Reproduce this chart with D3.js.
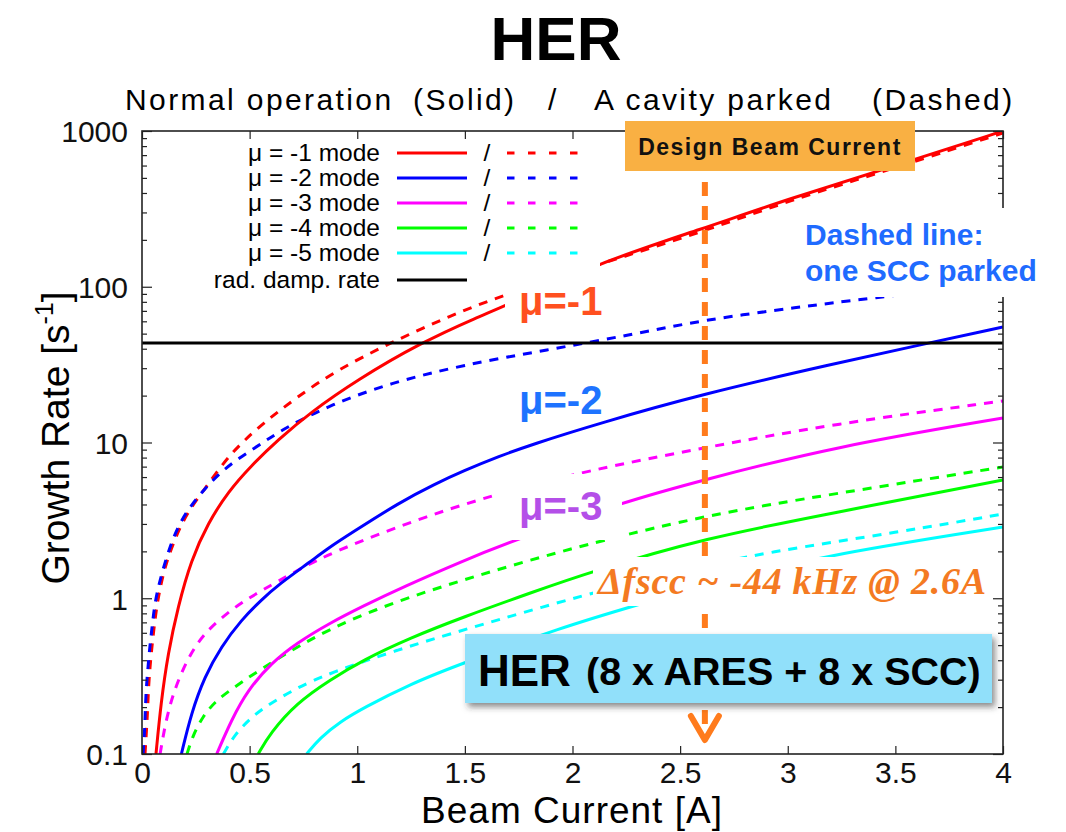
<!DOCTYPE html>
<html><head><meta charset="utf-8">
<script src="https://cdn.jsdelivr.net/npm/d3@7"></script>
<style>
body{margin:0;background:#fff}
svg{display:block}
</style>
</head><body>
<svg id="c" width="1066" height="832" font-family="'Liberation Sans',Arial,Helvetica,sans-serif"></svg>
<script>
// ---------- data ----------
const xTicks = [0, 0.5, 1, 1.5, 2, 2.5, 3, 3.5, 4];
const xTickLabels = ["0", "0.5", "1", "1.5", "2", "2.5", "3", "3.5", "4"];
const yTicks = [0.1, 1, 10, 100, 1000];
const yTickLabels = ["0.1", "1", "10", "100", "1000"];
const modeLabels = ["μ = -1 mode", "μ = -2 mode", "μ = -3 mode", "μ = -4 mode", "μ = -5 mode"];
const modeColors = ["#ff0000", "#0000ff", "#ff00ff", "#00ff00", "#00ffff"];
const radDampLabel = "rad. damp. rate";
const radDampRate = 43.5;      // s^-1
const designCurrent = 2.615;   // A

// [beam current (A), growth rate (1/s)] — normal operation (solid)
const mu1Solid = [[0.065,0.1],[0.088,0.213],[0.121,0.445],[0.167,0.879],[0.228,1.76],[0.307,3.04],[0.399,4.81],[0.506,7.07],[0.632,10.4],[0.78,15.5],[0.999,25.2],[1.292,43.5],[1.57,64.9],[1.677,74.1],[2.128,144],[2.602,235],[3.001,366],[3.498,596],[4.0,1000]];
const mu2Solid = [[0.183,0.1],[0.229,0.183],[0.291,0.314],[0.368,0.489],[0.461,0.725],[0.554,0.975],[0.632,1.216],[0.78,1.709],[0.873,2.134],[0.966,2.585],[1.199,4.15],[1.361,5.41],[1.491,6.56],[1.663,8.19],[1.803,9.63],[2.128,13.34],[2.606,20.5],[3.21,31.9],[3.614,42.3],[4.0,55.2]];
const mu3Solid = [[0.347,0.1],[0.415,0.165],[0.492,0.258],[0.601,0.384],[0.719,0.516],[0.873,0.694],[1.028,0.892],[1.212,1.181],[1.491,1.735],[1.695,2.263],[2.234,4.15],[2.606,5.74],[3.21,9.36],[4.0,14.36]];
const mu4Solid = [[0.54,0.1],[0.595,0.136],[0.719,0.213],[0.873,0.299],[1.028,0.402],[1.245,0.556],[1.493,0.758],[1.803,1.081],[2.081,1.474],[2.616,2.437],[3.21,3.527],[4.0,5.74]];
const mu5Solid = [[0.765,0.1],[0.827,0.127],[0.92,0.161],[1.027,0.197],[1.245,0.281],[1.491,0.384],[1.956,0.654],[2.267,0.879],[2.732,1.349],[3.21,1.924],[4.0,2.867]];
// one SCC parked (dashed)
const mu1Dashed = [[0.014,0.1],[0.021,0.143],[0.026,0.192],[0.03,0.265],[0.037,0.362],[0.046,0.486],[0.056,0.654],[0.07,0.919],[0.088,1.235],[0.111,1.659],[0.144,2.23],[0.181,2.95],[0.232,3.91],[0.288,4.96],[0.344,6.37],[0.413,8.44],[0.479,10.4],[0.553,12.95],[0.72,19.6],[0.906,29.2],[1.152,43.5],[1.417,63.9],[1.677,88.5],[2.128,140],[2.602,225],[3.001,355],[3.498,579],[4.0,971]];
const mu2Dashed = [[0.005,0.1],[0.0125,0.143],[0.0153,0.192],[0.02,0.269],[0.028,0.362],[0.036,0.486],[0.047,0.654],[0.059,0.919],[0.079,1.235],[0.106,1.684],[0.136,2.263],[0.175,3.04],[0.229,3.97],[0.291,5.03],[0.361,6.37],[0.438,7.72],[0.523,9.22],[0.601,10.85],[0.674,12.58],[0.874,17.41],[1.152,24.1],[1.491,31.45],[1.882,39.3],[2.267,49.0],[2.606,61.2],[3.057,74.1],[3.35,83.4],[4.0,105.7]];
const mu3Dashed = [[0.084,0.1],[0.107,0.154],[0.144,0.246],[0.208,0.402],[0.285,0.59],[0.394,0.804],[0.502,1.019],[0.626,1.271],[0.808,1.76],[1.027,2.366],[1.338,3.423],[1.649,4.67],[2.081,6.66],[2.606,9.22],[3.21,13.15],[4.0,18.47]];
const mu4Dashed = [[0.209,0.1],[0.237,0.132],[0.283,0.175],[0.339,0.216],[0.409,0.258],[0.609,0.396],[0.873,0.644],[1.185,0.96],[1.491,1.31],[1.803,1.76],[2.128,2.331],[2.625,3.423],[3.21,4.67],[4.0,6.96]];
const mu5Dashed = [[0.378,0.1],[0.432,0.134],[0.502,0.168],[0.562,0.197],[0.715,0.265],[0.873,0.331],[1.183,0.465],[1.491,0.625],[2.067,1.065],[2.499,1.496],[2.904,1.982],[3.521,2.663],[4.0,3.474]];

const solidSeries = [mu1Solid, mu2Solid, mu3Solid, mu4Solid, mu5Solid];
const dashedSeries = [mu1Dashed, mu2Dashed, mu3Dashed, mu4Dashed, mu5Dashed];

// ---------- layout ----------
const svg = d3.select("#c");
const L = 142, R = 1003, T = 131, B = 754;
const x = d3.scaleLinear().domain([0, 4]).range([L, R]);
const y = d3.scaleLog().domain([0.1, 1000]).range([B, T]);

const defs = svg.append("defs");
defs.append("clipPath").attr("id", "plotclip")
  .append("rect").attr("x", L).attr("y", T).attr("width", R - L).attr("height", B - T);
const shadow = defs.append("filter").attr("id", "shadow")
  .attr("x", "-10%").attr("y", "-20%").attr("width", "130%").attr("height", "160%");
shadow.append("feDropShadow").attr("dx", 3).attr("dy", 4).attr("stdDeviation", 3)
  .attr("flood-color", "#333").attr("flood-opacity", 0.55);

// title
svg.append("text").attr("x", 556).attr("y", 60).attr("text-anchor", "middle")
  .attr("font-size", 62).attr("font-weight", "bold").text("HER");

// subtitle pieces
const sub = [["Normal operation", 125], ["(Solid)", 413], ["/", 548], ["A cavity parked", 594], ["(Dashed)", 872]];
svg.selectAll("text.sub").data(sub).enter().append("text").attr("class", "sub")
  .attr("x", d => d[1]).attr("y", 110).attr("font-size", 30).attr("letter-spacing", 2.4).text(d => d[0]);

// curves
const plot = svg.append("g").attr("clip-path", "url(#plotclip)");
const line = d3.line().x(d => x(d[0])).y(d => y(d[1])).curve(d3.curveBasis);
dashedSeries.forEach((s, i) => {
  plot.append("path").attr("d", line(s)).attr("fill", "none")
    .attr("stroke", modeColors[i]).attr("stroke-width", 3).attr("stroke-dasharray", "9,8");
});
solidSeries.forEach((s, i) => {
  plot.append("path").attr("d", line(s)).attr("fill", "none")
    .attr("stroke", modeColors[i]).attr("stroke-width", 3);
});
// radiation damping
plot.append("line").attr("x1", L).attr("x2", R).attr("y1", y(radDampRate)).attr("y2", y(radDampRate))
  .attr("stroke", "#000").attr("stroke-width", 3);

// axes
function styleAxis(g) {
  g.select(".domain").remove();
  g.selectAll(".tick line").attr("stroke", "#222").attr("stroke-width", 1.2);
  g.selectAll(".tick text").attr("font-size", 30).attr("fill", "#111");
  g.attr("font-family", null).attr("font-size", null);
}
const minors = [];
for (let e = -1; e < 3; e++) for (let k = 2; k <= 9; k++) minors.push(k * Math.pow(10, e));

const gy = svg.append("g").attr("transform", `translate(${L},0)`)
  .call(d3.axisLeft(y).tickValues(yTicks).tickSize(-10).tickPadding(14)
    .tickFormat((d, i) => yTickLabels[i])).call(styleAxis);
gy.selectAll(".tick text").attr("dy", "0.36em");
svg.append("g").attr("transform", `translate(${L},0)`)
  .call(d3.axisLeft(y).tickValues(minors).tickSize(-5).tickFormat("")).call(styleAxis);
svg.append("g").attr("transform", `translate(${R},0)`)
  .call(d3.axisRight(y).tickValues(yTicks).tickSize(-10).tickFormat("")).call(styleAxis);
svg.append("g").attr("transform", `translate(${R},0)`)
  .call(d3.axisRight(y).tickValues(minors).tickSize(-5).tickFormat("")).call(styleAxis);
const gx = svg.append("g").attr("transform", `translate(0,${B})`)
  .call(d3.axisBottom(x).tickValues(xTicks).tickSize(-8).tickPadding(8)
    .tickFormat((d, i) => xTickLabels[i])).call(styleAxis);
gx.selectAll(".tick text").attr("y", 29).attr("dy", null);
svg.append("g").attr("transform", `translate(0,${T})`)
  .call(d3.axisTop(x).tickValues(xTicks).tickSize(-8).tickFormat("")).call(styleAxis);

// frame
svg.append("rect").attr("x", L).attr("y", T).attr("width", R - L).attr("height", B - T)
  .attr("fill", "none").attr("stroke", "#222").attr("stroke-width", 1.6);

// axis titles
svg.append("text").attr("x", 572).attr("y", 823).attr("text-anchor", "middle")
  .attr("font-size", 37).attr("letter-spacing", 1).text("Beam Current [A]");
const yl = svg.append("text").attr("transform", "translate(69,438) rotate(-90)")
  .attr("text-anchor", "middle").attr("font-size", 39);
yl.append("tspan").text("Growth Rate [s");
yl.append("tspan").attr("font-size", 25).attr("dy", -16).text("-1");
yl.append("tspan").attr("dy", 16).text("]");

// legend
const legRows = [153, 178, 203, 228, 253];
modeLabels.forEach((lab, i) => {
  const cy = legRows[i];
  svg.append("text").attr("x", 380).attr("y", cy + 8).attr("text-anchor", "end")
    .attr("font-size", 24.5).text(lab);
  svg.append("line").attr("x1", 397).attr("x2", 467).attr("y1", cy).attr("y2", cy)
    .attr("stroke", modeColors[i]).attr("stroke-width", 3.2);
  svg.append("text").attr("x", 487).attr("y", cy + 8).attr("text-anchor", "middle")
    .attr("font-size", 24.5).text("/");
  svg.append("line").attr("x1", 507).attr("x2", 578).attr("y1", cy).attr("y2", cy)
    .attr("stroke", modeColors[i]).attr("stroke-width", 3.2).attr("stroke-dasharray", "7.5,13.5");
});
svg.append("text").attr("x", 380).attr("y", 288).attr("text-anchor", "end")
  .attr("font-size", 24.5).text(radDampLabel);
svg.append("line").attr("x1", 397).attr("x2", 467).attr("y1", 280).attr("y2", 280)
  .attr("stroke", "#000").attr("stroke-width", 3.2);

// design current arrow
const ax = x(designCurrent);
svg.append("line").attr("x1", ax).attr("x2", ax).attr("y1", 182).attr("y2", 736)
  .attr("stroke", "#ff7b1c").attr("stroke-width", 6).attr("stroke-dasharray", "14,10");
svg.append("path").attr("d", `M${ax - 14},716 L${ax},740 L${ax + 14},716`)
  .attr("fill", "none").attr("stroke", "#ff7b1c").attr("stroke-width", 6)
  .attr("stroke-linecap", "round").attr("stroke-linejoin", "round");

// mode labels with white backgrounds
svg.append("rect").attr("x", 505).attr("y", 257).attr("width", 95).attr("height", 78).attr("fill", "#fff");
svg.append("rect").attr("x", 498).attr("y", 474).attr("width", 124).attr("height", 66).attr("fill", "#fff");
const muLab = [["μ=-1", 315, "#ff5020"], ["μ=-2", 414, "#1e73ff"], ["μ=-3", 520, "#b44fe8"]];
muLab.forEach(d => svg.append("text").attr("x", 519).attr("y", d[1]).attr("font-size", 40)
  .attr("font-weight", "bold").attr("fill", d[2]).text(d[0]));

// dashed line note
svg.append("rect").attr("x", 797).attr("y", 208).attr("width", 269).attr("height", 89).attr("fill", "#fff");
svg.append("text").attr("x", 805).attr("y", 245).attr("font-size", 30).attr("font-weight", "bold")
  .attr("fill", "#1f6bff").text("Dashed line:");
svg.append("text").attr("x", 805).attr("y", 281).attr("font-size", 30).attr("font-weight", "bold")
  .attr("fill", "#1f6bff").text("one SCC parked");

// detuning note
svg.append("rect").attr("x", 593).attr("y", 557).attr("width", 397).attr("height", 49).attr("fill", "#fff");
svg.append("text").attr("x", 598).attr("y", 594).attr("font-size", 38).attr("font-weight", "bold")
  .attr("font-style", "italic").attr("fill", "#f47a22")
  .attr("textLength", 388).attr("lengthAdjust", "spacing")
  .style("font-family", "'Liberation Serif','Times New Roman',serif")
  .text("Δfscc ~ -44 kHz @ 2.6A");

// HER box
svg.append("rect").attr("x", 465).attr("y", 634).attr("width", 527).attr("height", 69)
  .attr("fill", "#91e0fa").attr("filter", "url(#shadow)");
svg.append("text").attr("x", 478).attr("y", 686).attr("font-size", 44).attr("font-weight", "bold").text("HER");
svg.append("text").attr("x", 586).attr("y", 685).attr("font-size", 39.5).attr("font-weight", "bold")
  .text("(8 x ARES + 8 x SCC)");

// design beam current box
svg.append("rect").attr("x", 625).attr("y", 121).attr("width", 290).attr("height", 50).attr("fill", "#f9b043");
svg.append("text").attr("x", 770).attr("y", 155).attr("text-anchor", "middle").attr("font-size", 23)
  .attr("font-weight", "bold").attr("letter-spacing", 1.5).attr("fill", "#111").text("Design Beam Current");
</script>
</body></html>
